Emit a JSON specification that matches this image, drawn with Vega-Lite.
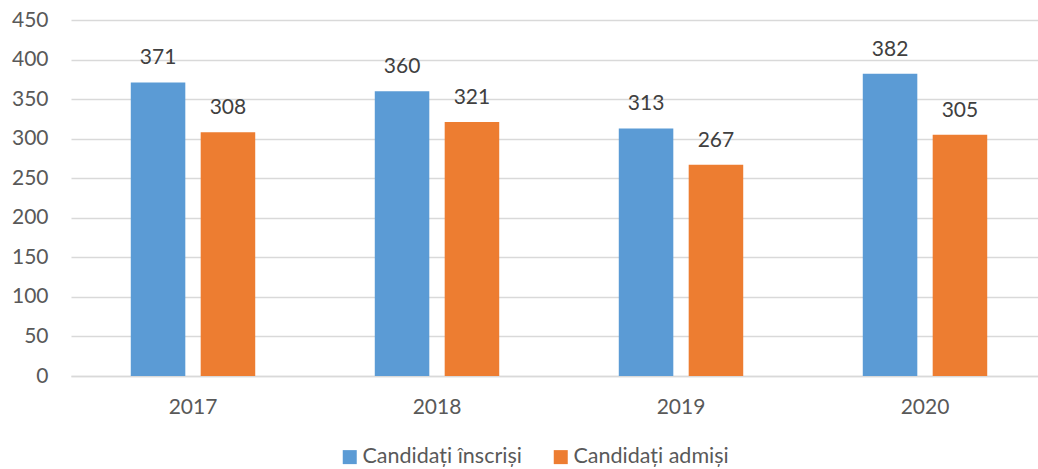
{
  "$schema": "https://vega.github.io/schema/vega-lite/v6.json",
  "width": 976,
  "height": 356,
  "autosize": {"type": "none"},
  "padding": {"left": 71, "top": 20, "right": 0, "bottom": 93},
  "background": "white",
  "config": {
    "view": {"stroke": null},
    "font": "Lato",
    "axis": {"labelFont": "Lato", "labelColor": "#595959", "labelFontSize": 21}
  },
  "data": {
    "values": [
      {"year": "2017", "serie": "Candidați înscriși", "value": 371},
      {"year": "2017", "serie": "Candidați admiși", "value": 308},
      {"year": "2018", "serie": "Candidați înscriși", "value": 360},
      {"year": "2018", "serie": "Candidați admiși", "value": 321},
      {"year": "2019", "serie": "Candidați înscriși", "value": 313},
      {"year": "2019", "serie": "Candidați admiși", "value": 267},
      {"year": "2020", "serie": "Candidați înscriși", "value": 382},
      {"year": "2020", "serie": "Candidați admiși", "value": 305}
    ]
  },
  "encoding": {
    "x": {
      "field": "year", "type": "nominal", "title": null,
      "scale": {"paddingInner": 0.49, "paddingOuter": 0.245},
      "axis": {"labelAngle": 0, "ticks": false, "domain": true, "domainColor": "#d9d9d9", "domainWidth": 1.5, "labelPadding": 20}
    },
    "xOffset": {
      "field": "serie", "type": "nominal",
      "scale": {"domain": ["Candidați înscriși", "Candidați admiși"], "paddingInner": 0.22, "paddingOuter": 0}
    },
    "y": {
      "field": "value", "type": "quantitative", "title": null,
      "scale": {"domain": [0, 450], "nice": false},
      "axis": {"values": [0, 50, 100, 150, 200, 250, 300, 350, 400, 450], "ticks": false, "domain": false, "gridColor": "#d9d9d9", "gridWidth": 1.5, "labelPadding": 23}
    }
  },
  "layer": [
    {
      "mark": {"type": "bar"},
      "encoding": {
        "color": {
          "field": "serie", "type": "nominal",
          "scale": {"domain": ["Candidați înscriși", "Candidați admiși"], "range": ["#5b9bd5", "#ed7d31"]},
          "legend": {
            "title": null, "orient": "none", "direction": "horizontal",
            "legendX": 268, "legendY": 426,
            "symbolType": "square", "symbolSize": 196, "symbolStrokeWidth": 0,
            "labelFontSize": 21.5, "labelColor": "#595959", "labelFont": "Lato", "labelLimit": 400,
            "columnPadding": 28, "labelOffset": 2
          }
        }
      }
    },
    {
      "mark": {"type": "text", "baseline": "alphabetic", "dy": -18, "fontSize": 21, "color": "#404040", "font": "Lato"},
      "encoding": {"text": {"field": "value", "type": "quantitative"}}
    }
  ]
}
